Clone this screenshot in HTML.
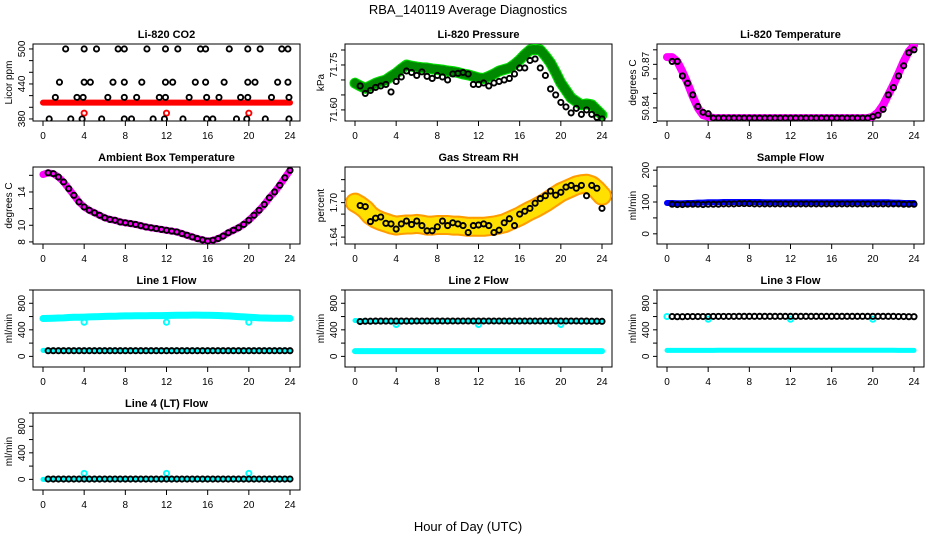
<!DOCTYPE html>
<html><head><meta charset="utf-8"><title>RBA_140119 Average Diagnostics</title>
<style>
html,body{margin:0;padding:0;background:#fff;}
svg{display:block;font-family:"Liberation Sans","DejaVu Sans",sans-serif;}
.ttl{font-size:11px;font-weight:bold;text-anchor:middle;}
.tk{font-size:10px;text-anchor:middle;}
</style></head>
<body>
<svg id="chart" width="936" height="540" viewBox="0 0 936 540" xmlns="http://www.w3.org/2000/svg">
<text x="468" y="14" font-size="13" text-anchor="middle">RBA_140119  Average Diagnostics</text>
<text x="468" y="531" font-size="13" text-anchor="middle">Hour of Day (UTC)</text>
</svg>
<script>
// ---- data ----
const xTicks = [0,4,8,12,16,20,24];
const bandHours = [0,0.5,1,1.5,2,2.5,3,3.5,4,4.5,5,5.5,6,6.5,7,7.5,8,8.5,9,9.5,10,10.5,11,11.5,12,12.5,13,13.5,14,14.5,15,15.5,16,16.5,17,17.5,18,18.5,19,19.5,20,20.5,21,21.5,22,22.5,23,23.5,24];
const ptHours = [0.5,1,1.5,2,2.5,3,3.5,4,4.5,5,5.5,6,6.5,7,7.5,8,8.5,9,9.5,10,10.5,11,11.5,12,12.5,13,13.5,14,14.5,15,15.5,16,16.5,17,17.5,18,18.5,19,19.5,20,20.5,21,21.5,22,22.5,23,23.5,24];

const co2Band = [408,408,408,408,408,408,408,408,408,408,408,408,408,408,408,408,408,408,408,408,408,408,408,408,408,408,408,408,408,408,408,408,408,408,408,408,408,408,408,408,408,408,408,408,408,408,408,408,408];
const co2Hours = [2.2,4.0,5.2,7.3,7.9,10.1,11.9,13.1,15.3,15.8,18.1,19.9,21.1,23.2,23.8, 1.6,4.0,4.6,6.8,7.9,9.6,11.9,12.6,14.8,15.8,17.6,19.9,20.6,22.8,23.8, 1.2,3.3,3.9,6.3,7.9,9.1,11.3,11.9,14.2,15.9,17.1,19.2,19.9,22.2,23.9, 0.6,2.7,3.8,5.7,7.9,8.6,10.7,11.8,13.6,15.9,16.5,18.8,19.8,21.6,23.9];
const co2Vals = [500,500,500,500,500,500,500,500,500,500,500,500,500,500,500, 443,443,443,443,443,443,443,443,443,443,443,443,443,443,443, 417,417,417,417,417,417,417,417,417,417,417,417,417,417,417, 380,380,380,380,380,380,380,380,380,380,380,380,380,380,380];
const co2RedHours = [4,12,20];
const co2RedVals = [390,390,390];

const presBand = [71.689,71.68,71.672,71.68,71.689,71.695,71.70,71.712,71.723,71.737,71.75,71.746,71.743,71.741,71.74,71.737,71.735,71.733,71.73,71.728,71.725,71.72,71.717,71.712,71.707,71.705,71.712,71.72,71.73,71.735,71.74,71.752,71.767,71.785,71.80,71.802,71.80,71.78,71.757,71.725,71.69,71.665,71.64,71.628,71.617,71.62,71.617,71.60,71.583];
const presPts = [71.68,71.655,71.665,71.675,71.68,71.685,71.66,71.695,71.71,71.73,71.725,71.715,71.727,71.712,71.705,71.715,71.71,71.70,71.72,71.722,71.725,71.72,71.685,71.685,71.69,71.68,71.69,71.695,71.70,71.705,71.72,71.74,71.74,71.765,71.77,71.74,71.715,71.67,71.65,71.625,71.61,71.59,71.605,71.585,71.60,71.585,71.575,71.57];

const tempBand = [50.875,50.875,50.872,50.865,50.857,50.848,50.840,50.835,50.834,50.833,50.833,50.833,50.833,50.833,50.833,50.833,50.833,50.833,50.833,50.833,50.833,50.833,50.833,50.833,50.833,50.833,50.833,50.833,50.833,50.833,50.833,50.833,50.833,50.833,50.833,50.833,50.833,50.833,50.833,50.833,50.834,50.837,50.842,50.849,50.856,50.864,50.872,50.879,50.883];
const tempPts = [50.872,50.872,50.862,50.857,50.849,50.841,50.837,50.836,50.833,50.833,50.833,50.833,50.833,50.833,50.833,50.833,50.833,50.833,50.833,50.833,50.833,50.833,50.833,50.833,50.833,50.833,50.833,50.833,50.833,50.833,50.833,50.833,50.833,50.833,50.833,50.833,50.833,50.833,50.833,50.834,50.835,50.839,50.849,50.854,50.862,50.869,50.878,50.880];

const ambBand = [16.1,16.3,16.2,15.8,15.2,14.4,13.6,12.8,12.2,11.8,11.5,11.2,10.9,10.7,10.6,10.4,10.3,10.2,10.1,9.95,9.8,9.7,9.6,9.5,9.4,9.3,9.2,9.0,8.8,8.6,8.4,8.25,8.1,8.2,8.4,8.7,9.1,9.4,9.7,10.1,10.6,11.2,11.8,12.5,13.3,14.0,14.8,15.7,16.6];
const ambPts = [16.3,16.2,15.8,15.2,14.4,13.6,12.8,12.2,11.8,11.5,11.2,10.9,10.7,10.6,10.4,10.3,10.2,10.1,9.95,9.8,9.7,9.6,9.5,9.4,9.3,9.2,9.0,8.8,8.6,8.4,8.25,8.1,8.2,8.4,8.7,9.1,9.4,9.7,10.1,10.6,11.2,11.8,12.5,13.3,14.0,14.8,15.7,16.6];

const rhBand = [1.70,1.695,1.688,1.678,1.672,1.668,1.665,1.662,1.660,1.661,1.662,1.662,1.663,1.662,1.660,1.660,1.661,1.661,1.661,1.660,1.660,1.659,1.658,1.658,1.658,1.658,1.659,1.660,1.662,1.664,1.668,1.672,1.676,1.681,1.686,1.690,1.695,1.700,1.706,1.712,1.718,1.722,1.726,1.730,1.732,1.733,1.730,1.722,1.712];
const rhPts = [1.695,1.693,1.667,1.673,1.675,1.664,1.663,1.654,1.663,1.668,1.662,1.668,1.660,1.651,1.651,1.658,1.668,1.660,1.665,1.663,1.660,1.648,1.660,1.661,1.663,1.660,1.648,1.652,1.665,1.672,1.660,1.680,1.685,1.690,1.699,1.707,1.712,1.720,1.713,1.718,1.727,1.730,1.725,1.730,1.712,1.730,1.725,1.690];

const sampBand = [97,97,96,96,97,97,98,98,99,99,99,100,100,100,100,100,100,100,100,99,99,99,99,99,99,99,99,99,99,99,99,99,99,99,99,99,99,99,99,99,99,99,99,99,98,98,97,97,97];
const sampPts = [93,92,92,93,93,93,92,93,93,93,94,94,94,95,95,95,94,94,94,94,94,94,94,94,94,94,94,94,94,94,94,94,94,94,94,94,94,94,94,94,94,94,94,94,94,93,93,93];

const l1HighBand = [570,572,575,578,580,585,588,590,592,595,598,600,602,604,606,608,610,610,612,612,613,614,615,615,616,618,620,620,621,622,622,621,620,618,616,612,610,605,600,595,590,585,580,578,576,575,574,573,572];
const l1LowBand = [90,90,90,90,90,90,90,90,90,90,90,90,90,90,90,90,90,90,90,90,90,90,90,90,90,90,90,90,90,90,90,90,90,90,90,90,90,90,90,90,90,90,90,90,90,90,90,90,90];
const l1Pts = [85,85,85,85,85,85,85,85,85,85,85,85,85,85,85,85,85,85,85,85,85,85,85,85,85,85,85,85,85,85,85,85,85,85,85,85,85,85,85,85,85,85,85,85,85,85,85,85];
const l1DipHours = [4,12,20];
const l1DipVals = [515,515,515];

const l2HighBand = [540,535,532,530,530,530,530,530,530,530,530,530,530,530,530,530,530,530,530,530,530,530,530,530,530,530,530,530,530,530,530,530,530,530,530,530,530,530,530,530,530,530,530,530,530,530,530,530,530];
const l2LowBand = [80,80,80,80,80,80,80,80,80,80,80,80,80,80,80,80,80,80,80,80,80,80,80,80,80,80,80,80,80,80,80,80,80,80,80,80,80,80,80,80,80,80,80,80,80,80,80,80,80];
const l2Pts = [525,530,530,532,532,532,532,532,532,532,532,533,533,533,533,533,533,533,533,533,533,533,533,533,533,533,533,533,533,533,533,533,533,533,533,533,533,533,533,533,533,533,533,532,532,530,530,528];
const l2DipHours = [4,12,20];
const l2DipVals = [480,480,480];

const l3LowBand = [90,90,90,90,90,90,90,90,90,90,92,92,92,92,92,92,92,92,92,92,92,92,92,92,92,92,92,92,92,92,92,92,92,92,92,92,92,92,92,92,92,92,92,92,92,90,90,90,90];
const l3Pts = [600,598,598,600,600,600,600,600,602,602,602,602,602,603,603,603,603,603,603,603,603,603,603,603,603,603,603,603,603,603,603,603,603,603,603,603,603,603,603,603,603,603,603,603,600,600,598,598];
const l3CyanHours = [0,4,12,20];
const l3CyanVals = [600,560,560,560];

const l4Band = [0,0,0,0,0,0,0,0,0,0,0,0,0,0,0,0,0,0,0,0,0,0,0,0,0,0,0,0,0,0,0,0,0,0,0,0,0,0,0,0,0,0,0,0,0,0,0,0,0];
const l4Pts = [5,5,5,5,5,5,5,5,5,5,5,5,5,5,5,5,5,5,5,5,5,5,5,5,5,5,5,5,5,5,5,5,5,5,5,5,5,5,5,5,5,5,5,5,5,5,5,5];
const l4BlipHours = [4,12,20];
const l4BlipVals = [90,90,90];

// ---- layout ----
const NS = 'http://www.w3.org/2000/svg';
const svg = document.getElementById('chart');
const colX = [33, 345, 657];
const rowY = [44, 167, 290, 413];
const BW = 267, BH = 77;

function mk(tag, attrs, parent) {
  const e = document.createElementNS(NS, tag);
  for (const k in attrs) e.setAttribute(k, attrs[k]);
  (parent || svg).appendChild(e);
  return e;
}

function makePanel(col, row, title, ylab, yMin, yMax, yTicks, yLabels) {
  const L = colX[col], T = rowY[row];
  const g = mk('g', {});
  
  
  const xs = h => L + 10 + h / 24 * 247;
  const ys = v => T + BH - (v - yMin) / (yMax - yMin) * BH;
  const box = mk('rect', {x: L, y: T, width: BW, height: BH, fill: 'none', stroke: '#000', 'stroke-width': 1}, g);
  
  
  const t = mk('text', {x: L + BW / 2, y: T - 6, class: 'ttl'}, g);
  t.textContent = title;
  
  
  const xa = mk('g', {}, g);
  
  
  mk('line', {x1: xs(0), x2: xs(24), y1: T + BH, y2: T + BH, stroke: '#000'}, xa);
  xTicks.forEach(v => {
    mk('line', {x1: xs(v), x2: xs(v), y1: T + BH, y2: T + BH + 5, stroke: '#000'}, xa);
    const tx = mk('text', {x: xs(v), y: T + BH + 18, class: 'tk'}, xa);
    tx.textContent = v;
    
    
  });
  const ya = mk('g', {}, g);
  
  
  yTicks.forEach(v => {
    mk('line', {x1: L - 4, x2: L, y1: ys(v), y2: ys(v), stroke: '#000'}, ya);
  });
  yLabels.forEach(v => {
    const yy = ys(v);
    const tx = mk('text', {x: L - 8, y: yy, class: 'tk', transform: `rotate(-90 ${L - 8} ${yy})`}, ya);
    tx.textContent = v;
    
    
  });
  const yt = mk('text', {x: L - 21, y: T + BH / 2, class: 'tk', transform: `rotate(-90 ${L - 21} ${T + BH / 2})`}, g);
  yt.textContent = ylab;
  
  
  const clipId = 'c' + col + row;
  const cp = mk('clipPath', {id: clipId}, g);
  mk('rect', {x: L, y: T, width: BW, height: BH}, cp);
  const plot = mk('g', {'clip-path': `url(#${clipId})`}, g);
  
  
  return {xs, ys, plot};
}

function band(p, hours, vals, color, width, name, dash) {
  const pts = hours.map((h, i) => p.xs(h).toFixed(1) + ',' + p.ys(vals[i]).toFixed(1)).join(' ');
  const a = {points: pts, fill: 'none', stroke: color, 'stroke-width': width, 'stroke-linejoin': 'round', 'stroke-linecap': 'round'};
  if (dash) a['stroke-dasharray'] = dash;
  const pl = mk('polyline', a, p.plot);
  
  
  return pl;
}

function points(p, hours, vals, color, name, r) {
  const g = mk('g', {}, p.plot);
  
  
  hours.forEach((h, i) => {
    const c = mk('circle', {cx: p.xs(h), cy: p.ys(vals[i]), r: r || 2.6, fill: 'none', stroke: color, 'stroke-width': 1.9}, g);
    
    
  });
}

// CO2
let p = makePanel(0, 0, 'Li-820 CO2', 'Licor ppm', 376.5, 508.5, [380,400,420,440,460,480,500], [380,440,500]);
band(p, bandHours, co2Band, '#ff0000', 6, 'co2-band');
points(p, co2RedHours, co2RedVals, '#ff0000', 'co2-red-points');
points(p, co2Hours, co2Vals, '#000', 'co2-points');

// Pressure
p = makePanel(1, 0, 'Li-820 Pressure', 'kPa', 71.563, 71.82, [71.60,71.65,71.70,71.75,71.80], ['71.60','71.75']);
band(p, bandHours, presBand, '#00e000', 11, 'pressure-band');
band(p, bandHours, presBand, '#008800', 9, 'pressure-band-texture', '1 3');
points(p, ptHours, presPts, '#000', 'pressure-points');

// Temperature
p = makePanel(2, 0, 'Li-820 Temperature', 'degrees C', 50.831, 50.884, [50.83,50.84,50.85,50.86,50.87,50.88], ['50.84','50.87']);
band(p, bandHours, tempBand, '#ff00ff', 8, 'temperature-band');
points(p, ptHours, tempPts, '#000', 'temperature-points');

// Ambient
p = makePanel(0, 1, 'Ambient Box Temperature', 'degrees C', 7.75, 17.0, [8,10,12,14,16], [8,10,14]);
band(p, bandHours, ambBand, '#ff00ff', 7, 'ambient-band');
points(p, ptHours, ambPts, '#000', 'ambient-points');

// RH
p = makePanel(1, 1, 'Gas Stream RH', 'percent', 1.628, 1.762, [1.64,1.66,1.68,1.70,1.72,1.74], ['1.64','1.70']);
band(p, bandHours, rhBand, '#ff9c00', 20, 'rh-band');
band(p, bandHours, rhBand, '#ffe000', 16, 'rh-band-texture', '1 3');
points(p, ptHours, rhPts, '#000', 'rh-points');

// Sample flow
p = makePanel(2, 1, 'Sample Flow', 'ml/min', -32, 210, [0,50,100,150,200], [0,100,200]);
band(p, bandHours, sampBand, '#0000ff', 6, 'sample-flow-band');
points(p, ptHours, sampPts, '#000', 'sample-flow-points');

const flowTicks = [0,200,400,600,800,1000];
const flowLabels = [0,400,800];
// Line 1
p = makePanel(0, 2, 'Line 1 Flow', 'ml/min', -160, 1000, flowTicks, flowLabels);
band(p, bandHours, l1HighBand, '#00ffff', 7, 'line1-high-band');
band(p, bandHours, l1LowBand, '#00ffff', 5, 'line1-low-band');
points(p, l1DipHours, l1DipVals, '#00ffff', 'line1-dips');
points(p, ptHours, l1Pts, '#000', 'line1-points');

// Line 2
p = makePanel(1, 2, 'Line 2 Flow', 'ml/min', -160, 1000, flowTicks, flowLabels);
band(p, bandHours, l2HighBand, '#00ffff', 5, 'line2-high-band');
band(p, bandHours, l2LowBand, '#00ffff', 6, 'line2-low-band');
points(p, l2DipHours, l2DipVals, '#00ffff', 'line2-dips');
points(p, ptHours, l2Pts, '#000', 'line2-points');

// Line 3
p = makePanel(2, 2, 'Line 3 Flow', 'ml/min', -160, 1000, flowTicks, flowLabels);
band(p, bandHours, l3LowBand, '#00ffff', 5, 'line3-low-band');
points(p, l3CyanHours, l3CyanVals, '#00ffff', 'line3-cyan-points');
points(p, ptHours, l3Pts, '#000', 'line3-points');

// Line 4
p = makePanel(0, 3, 'Line 4 (LT) Flow', 'ml/min', -160, 1000, flowTicks, flowLabels);
band(p, bandHours, l4Band, '#00ffff', 5, 'line4-band');
points(p, l4BlipHours, l4BlipVals, '#00ffff', 'line4-blips');
points(p, ptHours, l4Pts, '#000', 'line4-points');
</script>
</body></html>
